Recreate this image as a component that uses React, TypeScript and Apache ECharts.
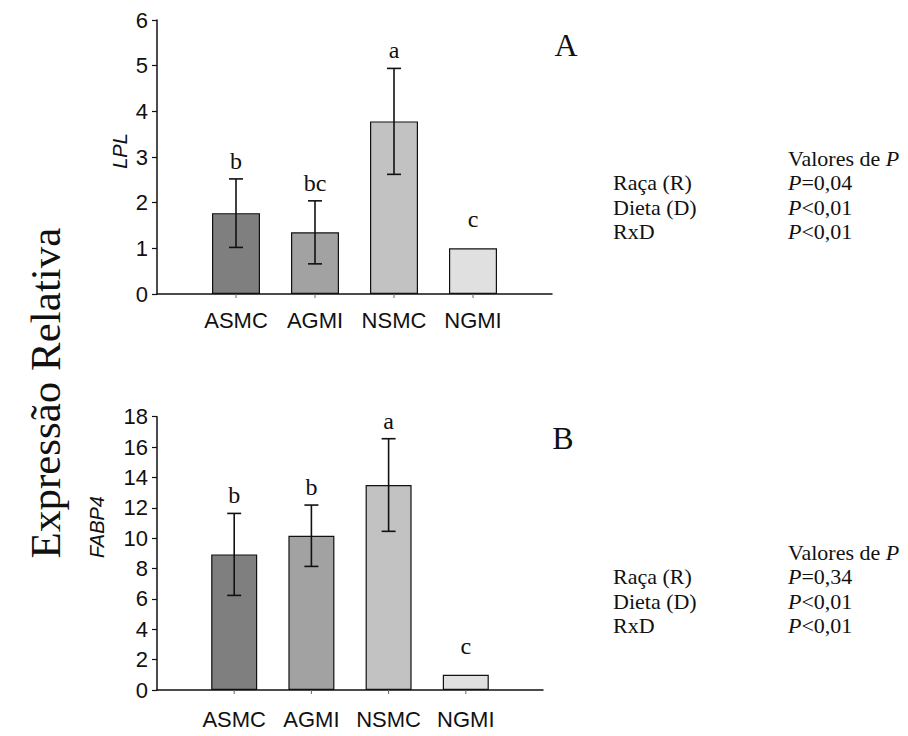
import React, { useEffect, useRef } from "react";
import * as echarts from "echarts";

const categories = ["ASMC", "AGMI", "NSMC", "NGMI"];
const barColors = ["#7f7f7f", "#a2a2a2", "#c2c2c2", "#e0e0e0"];

const lplValues = [1.77, 1.35, 3.78, 1.0];
const lplErrors = [0.75, 0.69, 1.16, 0];
const lplLetters = ["b", "bc", "a", "c"];

const fabpValues = [8.93, 10.16, 13.5, 1.0];
const fabpErrors = [2.7, 2.02, 3.05, 0];
const fabpLetters = ["b", "b", "a", "c"];

const pLabels = ["Raça (R)", "Dieta (D)", "RxD"];
const pA = ["=0,04", "<0,01", "<0,01"];
const pB = ["=0,34", "<0,01", "<0,01"];

const SANS = "'Liberation Sans', Arial, sans-serif";
const SERIF = "'Liberation Serif', 'Times New Roman', serif";

function barSeries(values: number[], idx: number, barWidth: number) {
  return {
    type: "bar",
    xAxisIndex: idx,
    yAxisIndex: idx,
    barWidth,
    data: values.map((v, i) => ({
      value: [i + 1, v],
      itemStyle: { color: barColors[i], borderColor: "#111", borderWidth: 1.2 },
    })),
  };
}

function errSeries(values: number[], errors: number[], letters: string[], idx: number) {
  return {
    type: "custom",
    xAxisIndex: idx,
    yAxisIndex: idx,
    z: 10,
    clip: false,
    data: values.map((v, i) => [i + 1, v, errors[i]]),
    renderItem: (params: any, api: any) => {
      const x = api.value(0);
      const v = api.value(1);
      const e = api.value(2);
      const children: any[] = [];
      const base = api.coord([x, 0]);
      children.push({
        type: "line",
        shape: { x1: base[0], y1: base[1], x2: base[0], y2: base[1] + 4 },
        style: { stroke: "#666", lineWidth: 1 },
      });
      let letterY: number;
      if (e > 0) {
        const top = api.coord([x, v + e]);
        const bot = api.coord([x, v - e]);
        const lineStyle = { stroke: "#111", lineWidth: 1.6 };
        children.push({ type: "line", shape: { x1: top[0], y1: top[1], x2: bot[0], y2: bot[1] }, style: lineStyle });
        children.push({ type: "line", shape: { x1: top[0] - 7, y1: top[1], x2: top[0] + 7, y2: top[1] }, style: lineStyle });
        children.push({ type: "line", shape: { x1: bot[0] - 7, y1: bot[1], x2: bot[0] + 7, y2: bot[1] }, style: lineStyle });
        letterY = top[1] - 6;
      } else {
        const t = api.coord([x, v]);
        letterY = t[1] - 17;
      }
      children.push({
        type: "text",
        style: {
          text: letters[params.dataIndex],
          x: base[0],
          y: letterY,
          align: "center",
          verticalAlign: "bottom",
          fontFamily: SERIF,
          fontSize: 24,
          fill: "#111",
        },
      });
      return { type: "group", children };
    },
  };
}

function pBlock(cy: number, vals: string[]) {
  const FS = 22;
  const rich = {
    n: { fontFamily: SERIF, fontSize: FS, fill: "#111" },
    i: { fontFamily: SERIF, fontSize: FS, fontStyle: "italic", fill: "#111" },
  };
  const step = 24.5;
  const els: any[] = [
    {
      type: "text",
      x: 788,
      y: cy,
      style: { text: "{n|Valores de }{i|P}", rich, fill: "#111", verticalAlign: "middle" },
    },
  ];
  pLabels.forEach((l, i) => {
    els.push({
      type: "text",
      x: 613,
      y: cy + step * (i + 1),
      style: { text: l, fontFamily: SERIF, fontSize: FS, fill: "#111", verticalAlign: "middle" },
    });
    els.push({
      type: "text",
      x: 788,
      y: cy + step * (i + 1),
      style: { text: "{i|P}{n|" + vals[i] + "}", rich, fill: "#111", verticalAlign: "middle" },
    });
  });
  return els;
}

export default function App() {
  const ref = useRef<HTMLDivElement>(null);
  useEffect(() => {
    if (!ref.current) return;
    const chart = echarts.init(ref.current, null, { renderer: "svg" });
    const xAxisBase = (idx: number, margin: number) => ({
      type: "value",
      gridIndex: idx,
      min: 0,
      max: 5,
      interval: 1,
      splitLine: { show: false },
      axisTick: { show: false },
      axisLine: { show: true, lineStyle: { color: "#111", width: 1.5 } },
      axisLabel: {
        formatter: (v: number) => (v >= 1 && v <= 4 ? categories[v - 1] : ""),
        fontFamily: SANS,
        fontSize: 22,
        color: "#111",
        margin,
      },
    });
    const yAxisBase = (idx: number, max: number, interval: number) => ({
      type: "value",
      gridIndex: idx,
      min: 0,
      max,
      interval,
      splitLine: { show: false },
      axisLine: { show: true, lineStyle: { color: "#111", width: 1.5 } },
      axisTick: { show: true, length: 5, lineStyle: { color: "#111", width: 1.2 } },
      axisLabel: { fontFamily: SANS, fontSize: 22, color: "#111", margin: 9 },
    });
    chart.setOption({
      animation: false,
      backgroundColor: "#fff",
      grid: [
        { left: 157, top: 20, width: 395, height: 274 },
        { left: 157, top: 416.7, width: 386, height: 273.3 },
      ],
      xAxis: [xAxisBase(0, 15), xAxisBase(1, 18)],
      yAxis: [yAxisBase(0, 6, 1), yAxisBase(1, 18, 2)],
      series: [
        barSeries(lplValues, 0, 48),
        errSeries(lplValues, lplErrors, lplLetters, 0),
        barSeries(fabpValues, 1, 46),
        errSeries(fabpValues, fabpErrors, fabpLetters, 1),
      ],
      graphic: [
        {
          type: "text",
          x: 45,
          y: 393,
          rotation: Math.PI / 2,
          style: {
            text: "Expressão Relativa",
            fontFamily: SERIF,
            fontSize: 43,
            fill: "#111",
            align: "center",
            verticalAlign: "middle",
          },
        },
        {
          type: "text",
          x: 120,
          y: 151,
          rotation: Math.PI / 2,
          style: {
            text: "LPL",
            fontFamily: SANS,
            fontStyle: "italic",
            fontSize: 20,
            fill: "#111",
            align: "center",
            verticalAlign: "middle",
          },
        },
        {
          type: "text",
          x: 97,
          y: 527,
          rotation: Math.PI / 2,
          style: {
            text: "FABP4",
            fontFamily: SANS,
            fontStyle: "italic",
            fontSize: 20,
            fill: "#111",
            align: "center",
            verticalAlign: "middle",
          },
        },
        {
          type: "text",
          x: 566,
          y: 45,
          style: { text: "A", fontFamily: SERIF, fontSize: 32, fill: "#111", align: "center", verticalAlign: "middle" },
        },
        {
          type: "text",
          x: 563,
          y: 438,
          style: { text: "B", fontFamily: SERIF, fontSize: 32, fill: "#111", align: "center", verticalAlign: "middle" },
        },
        ...pBlock(158, pA),
        ...pBlock(552, pB),
      ],
    });
    return () => chart.dispose();
  }, []);
  return <div ref={ref} style={{ position: "fixed", left: 0, top: 0, width: 908, height: 736 }} />;
}
